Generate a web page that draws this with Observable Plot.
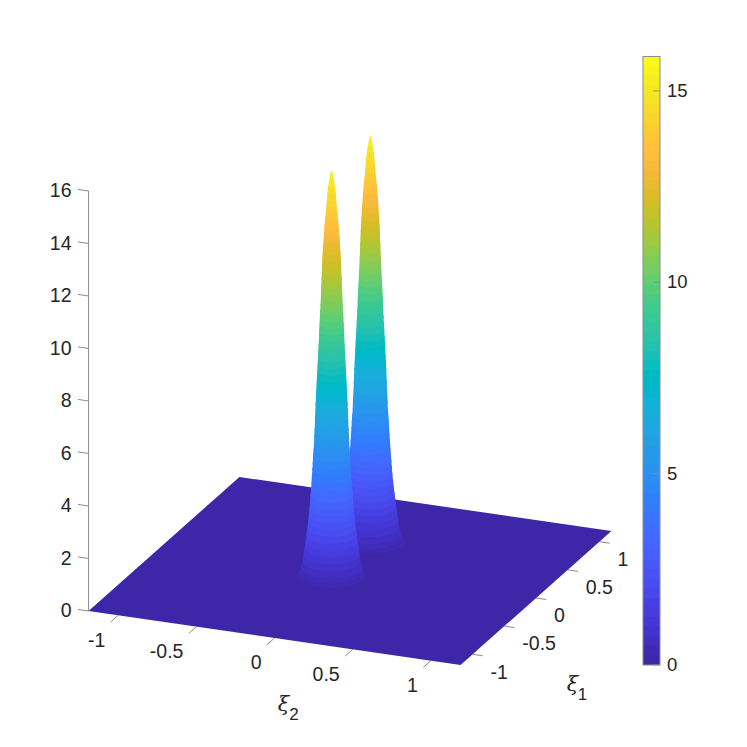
<!DOCTYPE html>
<html>
<head>
<meta charset="utf-8">
<script src="https://cdn.jsdelivr.net/npm/d3@7"></script>
<script src="https://cdn.jsdelivr.net/npm/@observablehq/plot@0.6"></script>
<style>
html,body{margin:0;padding:0;background:#fff}
#chart{position:relative;width:747px;height:747px;overflow:hidden}
#chart svg{position:absolute;top:0;background:transparent;max-width:none}
</style>
</head>
<body>
<div id="chart"></div>
<script>
// ---- values ----
const xiLimit = 1.19;
const colorMax = 15.9;
const xi1Ticks = [-1, -0.5, 0, 0.5, 1];
const xi2Ticks = [-1, -0.5, 0, 0.5, 1];
const axisLabels = ["-1", "-0.5", "0", "0.5", "1"];
const zTicks = [0, 2, 4, 6, 8, 10, 12, 14, 16];
const colorbarTicks = [0, 5, 10, 15];
const peakXi1 = [0.32, -0.29];   // back peak first
const peakXi2 = [0, 0];
const ringHeight = [0.45,0.6,0.75,1,1.25,1.5,1.75,2,2.25,2.5,2.75,3,3.25,3.5,3.75,4,4.25,4.5,4.75,5,5.25,5.5,5.75,6,6.25,6.5,6.75,7,7.25,7.5,7.75,8,8.25,8.5,8.75,9,9.25,9.5,9.75,10,10.25,10.5,10.75,11,11.25,11.5,11.75,12,12.25,12.5,12.75,13,13.25,13.5,13.75,14,14.25,14.5,14.75,15,15.25,15.5,15.75,15.9];
const ringRadius = [.205,.191,.181,.172,.166,.160,.154,.149,.144,.139,.135,.131,.128,.125,.122,.119,.117,.114,.112,.110,.107,.104,.103,.101,.099,.098,.096,.095,.093,.091,.089,.087,.085,.083,.081,.079,.077,.075,.074,.072,.070,.068,.066,.064,.063,.061,.060,.058,.057,.055,.053,.050,.048,.045,.042,.039,.035,.031,.028,.025,.021,.015,.007,.001];
const parula = [[.2422,.1504,.6603],[.2504,.165,.7076],[.2578,.1818,.7511],[.2647,.1978,.7952],[.2706,.2147,.8364],[.2751,.2342,.871],[.2783,.2559,.8991],[.2803,.2782,.9221],[.2813,.3006,.9414],[.281,.3228,.9579],[.2795,.3447,.9717],[.276,.3667,.9829],[.2699,.3892,.9906],[.2602,.4123,.9952],[.244,.4358,.9988],[.2206,.4603,.9973],[.1963,.4847,.9892],[.1834,.5074,.9798],[.1786,.5289,.9682],[.1764,.5499,.952],[.1687,.5703,.9359],[.154,.5902,.9218],[.146,.6091,.9079],[.138,.6276,.8973],[.1248,.6459,.8883],[.1113,.6635,.8763],[.0952,.6798,.8598],[.0689,.6948,.8394],[.0297,.7082,.8163],[.0036,.7203,.7917],[.0067,.7312,.766],[.0433,.7411,.7394],[.0964,.75,.712],[.1408,.7584,.6842],[.1717,.767,.6554],[.1938,.7758,.6251],[.2161,.7843,.5923],[.247,.7918,.5567],[.2906,.7973,.5188],[.3406,.8008,.4789],[.3909,.8029,.4354],[.4456,.8024,.3909],[.5044,.7993,.348],[.5616,.7942,.3045],[.6174,.7876,.2612],[.672,.7793,.2227],[.7242,.7698,.191],[.7738,.7598,.1646],[.8203,.7498,.1535],[.8634,.7406,.1596],[.9035,.733,.1774],[.9393,.7288,.21],[.9728,.7298,.2394],[.9956,.7434,.2371],[.997,.7659,.2199],[.9952,.7893,.2028],[.9892,.8136,.1885],[.9786,.8386,.1766],[.9676,.8639,.1643],[.961,.889,.1537],[.9597,.9135,.1423],[.9628,.9373,.1265],[.9691,.9606,.1064],[.9769,.9839,.0805]];

// ---- oblique view: ξ1, ξ2, z -> the plot's own x and y ----
const view = {xFromXi1: 0.4056, yFromXi1: 2.1448, yFromXi2: -0.8648};
const u = (xi1, xi2) => xi2 + view.xFromXi1 * xi1;
const v = (xi1, xi2, z) => z + view.yFromXi2 * xi2 + view.yFromXi1 * xi1;

const colors = parula.map(([r, g, b]) => d3.rgb(r * 255, g * 255, b * 255).formatHex());
const textColor = "#262626", axisColor = "#8c8c8c", font = "Liberation Sans";
const tickFont = 19.5;
const lo = -xiLimit, hi = xiLimit;

// floor of the surface
const floor = [[lo, lo], [lo, hi], [hi, hi], [hi, lo]].map(([a, b]) => ({xi1: a, xi2: b, value: 0}));

// each band of a peak: the outline around one level ring and the next, painted bottom to top
const angles = d3.range(0, 72).map(i => i / 72 * 2 * Math.PI);
const ringPoints = (c1, c2, r, h) => angles.map(t => {
  const a = c1 + r * Math.sin(t), b = c2 + r * Math.cos(t);
  return [u(a, b), v(a, b, h)];
});
const bandsOf3d = peakXi1.flatMap((c1, p) => ringHeight.slice(0, -1).flatMap((h, k) => {
  const hull = d3.polygonHull([
    ...ringPoints(c1, peakXi2[p], ringRadius[k], h),
    ...ringPoints(c1, peakXi2[p], ringRadius[k + 1], ringHeight[k + 1])
  ]);
  const value = Math.max(0.1, h - 0.25);
  return hull.map(([px, py]) => ({key: p * 1000 + k, px, py, value}));
}));

const zTickLen = 0.068, xi2TickLen = 0.12, xi1TickLen = 0.065;
const common = {fontSize: tickFont, fill: textColor};
const axisStroke = {stroke: axisColor, strokeWidth: 1};
const xiStyle = {fontFamily: "DejaVu Serif", fontStyle: "italic", fontSize: 21, fill: textColor};

const main = Plot.plot({
  width: 747, height: 747, margin: 0,
  style: {fontFamily: font, background: "transparent"},
  x: {domain: [-349.5 / 156.3, 397.5 / 156.3], range: [0, 747], axis: null},
  y: {domain: [-176.5 / 26.25, 570.5 / 26.25], range: [747, 0], axis: null},
  color: {type: "linear", domain: [0, colorMax], interpolate: d3.piecewise(d3.interpolateRgb, colors)},
  marks: [
    // z axis
    Plot.link([0], {x1: () => u(lo, lo), x2: () => u(lo, lo), y1: () => v(lo, lo, 0), y2: () => v(lo, lo, 16), ...axisStroke}),
    Plot.link(zTicks, {x1: () => u(lo, lo), y1: z => v(lo, lo, z), x2: () => u(lo, lo - zTickLen), y2: z => v(lo, lo - zTickLen, z), ...axisStroke}),
    Plot.text(zTicks, {x: () => u(lo, lo), y: z => v(lo, lo, z), text: z => String(z), textAnchor: "end", dx: -17, ...common}),
    // ξ2 axis
    Plot.link(xi2Ticks, {x1: t => u(lo, t), y1: t => v(lo, t, 0), x2: t => u(lo - xi2TickLen, t), y2: t => v(lo - xi2TickLen, t, 0), ...axisStroke}),
    Plot.text(xi2Ticks, {x: t => u(lo, t), y: t => v(lo, t, 0), text: (t, i) => axisLabels[i], textAnchor: "end", dx: -13, dy: 25, ...common}),
    // ξ1 axis
    Plot.link(xi1Ticks, {x1: t => u(t, hi), y1: t => v(t, hi, 0), x2: t => u(t, hi + xi1TickLen), y2: t => v(t, hi + xi1TickLen, 0), ...axisStroke}),
    Plot.text(xi1Ticks, {x: t => u(t, hi), y: t => v(t, hi, 0), text: (t, i) => axisLabels[i], textAnchor: "start", dx: 18, dy: 18, ...common}),
    // axis titles
    Plot.text(["ξ"], {x: () => u(lo, 0), y: () => v(lo, 0, 0), dx: 9, dy: 66, ...xiStyle}),
    Plot.text(["2"], {x: () => u(lo, 0), y: () => v(lo, 0, 0), dx: 19.5, dy: 77, fontSize: 17, fill: textColor}),
    Plot.text(["ξ"], {x: () => u(0, hi), y: () => v(0, hi, 0), dx: 36.5, dy: 86, ...xiStyle}),
    Plot.text(["1"], {x: () => u(0, hi), y: () => v(0, hi, 0), dx: 46.5, dy: 97, fontSize: 17, fill: textColor}),
    // surface
    Plot.line(floor, {x: d => u(d.xi1, d.xi2), y: d => v(d.xi1, d.xi2, 0), z: () => 0, curve: "linear-closed", fill: "value", stroke: "none"}),
    Plot.line(bandsOf3d, {x: "px", y: "py", z: "key", curve: "linear-closed", fill: "value", stroke: "none"})
  ]
});

const bands = colors.map((c, i) => ({from: i / colors.length * colorMax, to: (i + 1) / colors.length * colorMax, c}));
const colorbar = Plot.plot({
  width: 100, height: 747,
  marginLeft: 0.5, marginRight: 82.5, marginTop: 56, marginBottom: 82.5,
  style: {fontFamily: font, background: "transparent"},
  x: {domain: [0, 1], axis: null},
  y: {domain: [0, colorMax], axis: null},
  marks: [
    Plot.rect(bands, {x1: () => 0, x2: () => 1, y1: "from", y2: "to", fill: "c", shapeRendering: "crispEdges"}),
    Plot.ruleY(colorbarTicks, {x1: () => 0.63, x2: () => 1, stroke: axisColor, strokeWidth: 1}),
    Plot.axisY(colorbarTicks, {anchor: "right", tickSize: 0, tickPadding: 7, fontSize: 18.5, color: textColor, label: null, tickFormat: d => String(d)}),
    Plot.frame({stroke: axisColor, strokeWidth: 1})
  ]
});
colorbar.style.left = "642px";

document.getElementById("chart").append(main, colorbar);
</script>
</body>
</html>
